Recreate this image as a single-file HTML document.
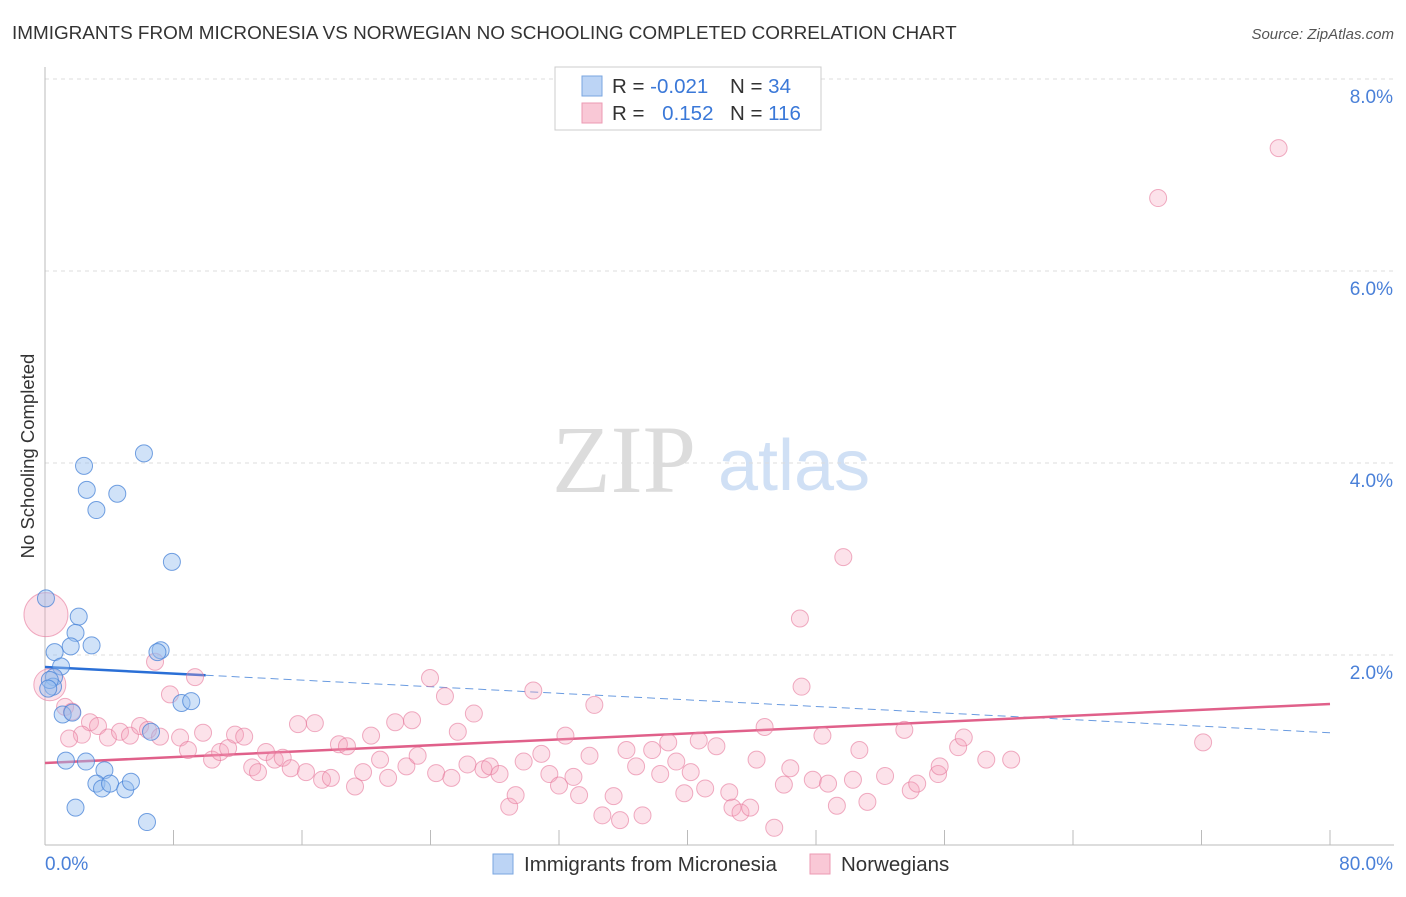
<!DOCTYPE html>
<html><head><meta charset="utf-8"><style>
body{margin:0;background:#fff;font-family:"Liberation Sans",sans-serif}
</style></head><body>
<svg id="chart" width="1406" height="892" xmlns="http://www.w3.org/2000/svg" font-family="Liberation Sans, sans-serif">
<text x="12" y="39" font-size="18.9" fill="#333">IMMIGRANTS FROM MICRONESIA VS NORWEGIAN NO SCHOOLING COMPLETED CORRELATION CHART</text>
<text x="1394" y="39" font-size="15" fill="#555" text-anchor="end" font-style="italic">Source: ZipAtlas.com</text>
<g>
<text x="552" y="492" font-size="96" font-family="Liberation Serif, serif" fill="#dcdcdc">ZIP</text>
<text x="718" y="490" font-size="72" fill="#d0e0f5">atlas</text>
</g>
<g id="grid"></g>
<g id="axes"></g>
<g id="lines"></g>
<g id="pts"></g>
<text transform="translate(34,456) rotate(-90)" font-size="18.5" fill="#333" text-anchor="middle">No Schooling Completed</text>
<g>
<rect x="555" y="67" width="266" height="63" fill="#fff" stroke="#ccc"/>
<rect x="582" y="76" width="20" height="20" fill="#bcd4f5" stroke="#7aa6e0"/>
<rect x="582" y="103" width="20" height="20" fill="#f9c8d6" stroke="#ec9ab3"/>
<text x="612" y="93" font-size="20.5" fill="#333">R = <tspan fill="#3a78d8">-0.021</tspan></text>
<text x="730" y="93" font-size="20.5" fill="#333">N = <tspan fill="#3a78d8"> 34</tspan></text>
<text x="612" y="120" font-size="20.5" fill="#333">R = <tspan fill="#3a78d8" dx="12">0.152</tspan></text>
<text x="730" y="120" font-size="20.5" fill="#333">N = <tspan fill="#3a78d8">116</tspan></text>
</g>
<g>
<rect x="493" y="854" width="20" height="20" fill="#bcd4f5" stroke="#7aa6e0"/>
<text x="524" y="871" font-size="20.5" fill="#333">Immigrants from Micronesia</text>
<rect x="810" y="854" width="20" height="20" fill="#f9c8d6" stroke="#ec9ab3"/>
<text x="841" y="871" font-size="20.5" fill="#333">Norwegians</text>
</g>
</svg>
<script>
const blueX=[2.43,6.16,2.6,4.5,3.2,7.9,0.06,2.1,1.9,1.6,0.6,2.9,7.2,7.0,1.0,0.56,0.5,1.1,1.7,8.5,9.1,6.6,1.3,2.55,3.7,3.2,3.55,4.05,5.0,5.35,1.9,6.35,0.3,0.2];
const blueY=[3.97,4.10,3.72,3.68,3.51,2.97,2.59,2.40,2.23,2.09,2.03,2.10,2.05,2.03,1.88,1.77,1.67,1.38,1.40,1.50,1.52,1.20,0.90,0.89,0.80,0.66,0.61,0.66,0.60,0.68,0.41,0.26,1.74,1.65];
const pinkX=[76.8,69.3,49.7,47.0,47.1,72.1,0.06,0.3,6.85,9.34,7.78,23.97,24.9,30.4,34.2,26.7,1.25,1.68,2.8,3.3,2.3,3.92,4.67,5.29,5.92,6.41,7.16,8.41,8.9,9.84,10.4,10.9,11.4,11.83,12.4,12.9,13.26,13.76,14.3,14.8,15.3,15.75,16.25,16.8,17.25,17.8,18.3,18.8,19.3,19.8,20.3,20.86,21.36,21.8,22.5,22.85,23.2,24.35,25.3,25.7,26.3,27.3,27.7,28.3,28.9,29.3,29.8,30.9,31.4,32.0,32.4,32.9,33.25,33.9,34.7,35.4,35.8,36.2,36.8,37.2,37.8,38.3,38.8,39.3,39.8,40.2,40.7,41.1,41.8,42.6,42.8,43.3,43.9,44.3,44.8,45.4,46.0,46.4,47.8,48.4,48.75,49.3,50.3,50.7,51.2,52.3,53.5,53.9,54.3,55.6,55.7,56.85,57.2,58.6,60.15,1.5];
const pinkY=[7.28,6.76,3.02,2.38,1.67,1.09,2.42,1.69,1.93,1.77,1.59,1.76,1.57,1.63,1.48,1.39,1.46,1.41,1.30,1.26,1.17,1.14,1.20,1.16,1.26,1.22,1.15,1.14,1.01,1.19,0.91,0.99,1.03,1.17,1.15,0.83,0.78,0.99,0.91,0.93,0.82,1.28,0.78,1.29,0.70,0.72,1.07,1.05,0.63,0.78,1.16,0.91,0.72,1.30,0.84,1.32,0.95,0.77,0.72,1.20,0.86,0.81,0.84,0.76,0.42,0.54,0.89,0.97,0.76,0.64,1.16,0.73,0.54,0.95,0.33,0.53,0.28,1.01,0.84,0.33,1.01,0.76,1.09,0.89,0.56,0.78,1.11,0.61,1.05,0.57,0.41,0.36,0.41,0.91,1.25,0.20,0.65,0.82,0.70,1.16,0.66,0.43,0.70,1.01,0.47,0.74,1.22,0.59,0.66,0.76,0.84,1.04,1.14,0.91,0.91,1.13];
const pinkR=[];pinkR[6]=22;pinkR[7]=16;
const yTicks=[2,4,6,8];
const yTickLabels=["2.0%","4.0%","6.0%","8.0%"];
const xTicks=[0,8,16,24,32,40,48,56,64,72,80];
const blueTrend=[1.875,1.19];
const pinkTrend=[0.875,1.49];
const NS="http://www.w3.org/2000/svg";
const sx=v=>45+v*1285/80, sy=v=>847-v*96;
function mk(p,t,a){const e=document.createElementNS(NS,t);for(const k in a)e.setAttribute(k,a[k]);p.appendChild(e);return e;}
const grid=document.getElementById('grid'),axes=document.getElementById('axes'),lines=document.getElementById('lines'),pts=document.getElementById('pts');
yTicks.forEach((t,i)=>{
 const l=mk(grid,'line',{x1:45,x2:1394,y1:sy(t),y2:sy(t),stroke:'#ddd','stroke-dasharray':'4,4'});
 
 
 const tx=mk(grid,'text',{x:1393,y:sy(t)+24,'font-size':19,fill:'#4a80d8','text-anchor':'end'});
 tx.textContent=yTickLabels[i];
 
 
});
const xa=mk(axes,'line',{x1:45,x2:1394,y1:845,y2:845,stroke:'#bbb'});


const ya=mk(axes,'line',{x1:45,x2:45,y1:67,y2:845,stroke:'#bbb'});


xTicks.forEach(t=>{
 const l=mk(axes,'line',{x1:sx(t),x2:sx(t),y1:830,y2:845,stroke:'#bbb'});
 
 
});
const x0=mk(axes,'text',{x:45,y:870,'font-size':19,fill:'#4a80d8'});x0.textContent='0.0%';


const x1=mk(axes,'text',{x:1393,y:870,'font-size':19,fill:'#4a80d8','text-anchor':'end'});x1.textContent='80.0%';


const by=x=>blueTrend[0]+(blueTrend[1]-blueTrend[0])*x/80;
const bs=mk(lines,'line',{x1:sx(0),y1:sy(by(0)),x2:sx(10),y2:sy(by(10)),stroke:'#2a6fd6','stroke-width':2.5});


const bd=mk(lines,'line',{x1:sx(10),y1:sy(by(10)),x2:sx(80),y2:sy(by(80)),stroke:'#6a9be0','stroke-width':1,'stroke-dasharray':'8,5'});


const pl=mk(lines,'line',{x1:sx(0),y1:sy(pinkTrend[0]),x2:sx(80),y2:sy(pinkTrend[1]),stroke:'#e0608a','stroke-width':2.5});


pinkX.forEach((x,i)=>{
 const c=mk(pts,'circle',{cx:sx(x),cy:sy(pinkY[i]),r:pinkR[i]||8.5,fill:'rgba(244,160,185,0.3)',stroke:'rgba(230,120,155,0.6)','stroke-width':1});
 
 
});
blueX.forEach((x,i)=>{
 const c=mk(pts,'circle',{cx:sx(x),cy:sy(blueY[i]),r:8.5,fill:'rgba(150,190,240,0.45)',stroke:'rgba(70,130,215,0.75)','stroke-width':1});
 
 
});
</script>
</body></html>
